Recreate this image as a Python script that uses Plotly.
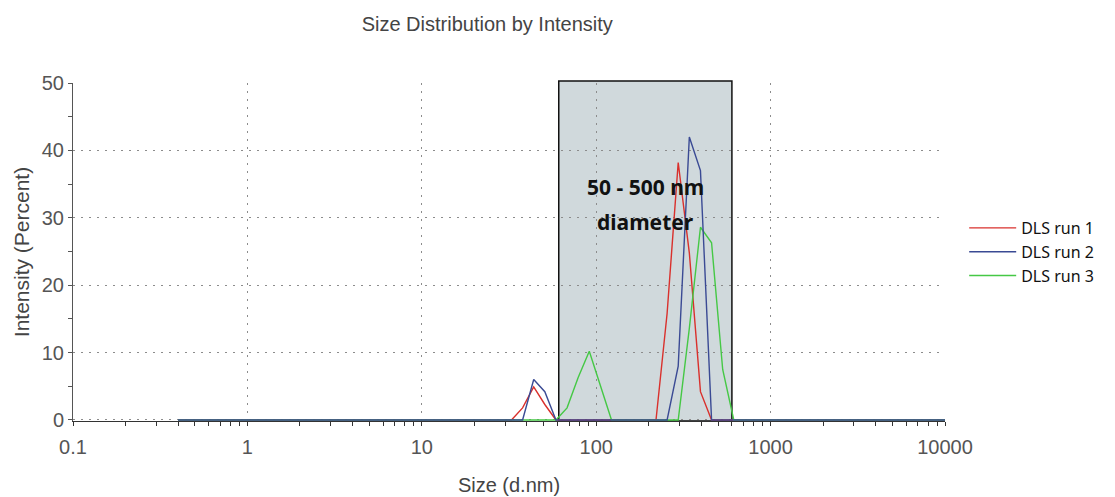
import math
import plotly.graph_objects as go

# DLS size bins (d.nm)
sizes = [0.4, 0.4632, 0.5365, 0.6213, 0.7195, 0.8332, 0.9649, 1.117, 1.294, 1.499,
         1.736, 2.01, 2.328, 2.696, 3.122, 3.615, 4.187, 4.849, 5.615, 6.503,
         7.531, 8.721, 10.1, 11.7, 13.54, 15.69, 18.17, 21.04, 24.36, 28.21,
         32.67, 37.84, 43.82, 50.75, 58.77, 68.06, 78.82, 91.28, 105.7, 122.4,
         141.8, 164.2, 190.1, 220.2, 255.0, 295.3, 342.0, 396.1, 458.7, 531.2,
         615.1, 712.4, 825.0, 955.4, 1106, 1281, 1484, 1718, 1990, 2305,
         2669, 3091, 3580, 4145, 4801, 5560, 6439, 7456, 8635, 10000]

run1 = [0, 0, 0, 0, 0, 0, 0, 0, 0, 0,
        0, 0, 0, 0, 0, 0, 0, 0, 0, 0,
        0, 0, 0, 0, 0, 0, 0, 0, 0, 0,
        0, 1.8, 4.9, 2.3, 0, 0, 0, 0, 0, 0,
        0, 0, 0, 0, 15.8, 38.2, 24.8, 4.2, 0, 0,
        0, 0, 0, 0, 0, 0, 0, 0, 0, 0,
        0, 0, 0, 0, 0, 0, 0, 0, 0, 0]

run2 = [0, 0, 0, 0, 0, 0, 0, 0, 0, 0,
        0, 0, 0, 0, 0, 0, 0, 0, 0, 0,
        0, 0, 0, 0, 0, 0, 0, 0, 0, 0,
        0, 0, 6.0, 4.2, 0, 0, 0, 0, 0, 0,
        0, 0, 0, 0, 0, 8.0, 42.0, 37.0, 0, 0,
        0, 0, 0, 0, 0, 0, 0, 0, 0, 0,
        0, 0, 0, 0, 0, 0, 0, 0, 0, 0]

run3 = [0, 0, 0, 0, 0, 0, 0, 0, 0, 0,
        0, 0, 0, 0, 0, 0, 0, 0, 0, 0,
        0, 0, 0, 0, 0, 0, 0, 0, 0, 0,
        0, 0, 0, 0, 0, 1.8, 6.3, 10.2, 5.0, 0,
        0, 0, 0, 0, 0, 0, 13.6, 28.6, 26.3, 7.5,
        0, 0, 0, 0, 0, 0, 0, 0, 0, 0,
        0, 0, 0, 0, 0, 0, 0, 0, 0, 0]

series_names = ["DLS run 1", "DLS run 2", "DLS run 3"]
series_colors = ["#d9302c", "#3a4a94", "#45c845"]

x_tickvals = [0.1, 1, 10, 100, 1000, 10000]
x_ticktext = ["0.1", "1", "10", "100", "1000", "10000"]
y_tickvals = [0, 10, 20, 30, 40, 50]

band_range = [61, 600]
band_label = ["50 - 500 nm", "diameter"]

fig = go.Figure()
# draw order: run1, run3, run2 (run2 on top); legend order by rank
for data, name, color, rank in [(run1, series_names[0], series_colors[0], 1),
                                (run3, series_names[2], series_colors[2], 3),
                                (run2, series_names[1], series_colors[1], 2)]:
    fig.add_trace(go.Scatter(x=sizes, y=data, mode="lines", name=name,
                             line=dict(color=color, width=1.4),
                             legendrank=rank, cliponaxis=False))

fig.add_shape(type="rect", xref="x", yref="paper",
              x0=band_range[0], x1=band_range[1], y0=0, y1=1.006,
              fillcolor="#d0d9dc", line=dict(color="#111111", width=1.5),
              layer="below")

ann_x = (math.log10(band_range[0]) + math.log10(band_range[1])) / 2
fig.add_annotation(x=ann_x, y=34.5, xref="x", yref="y", text=band_label[0],
                   showarrow=False,
                   font=dict(family="Noto Sans", size=21, color="#111111", weight="bold"))
fig.add_annotation(x=ann_x, y=29.4, xref="x", yref="y", text=band_label[1],
                   showarrow=False,
                   font=dict(family="Noto Sans", size=21, color="#111111", weight="bold"))

tickfont = dict(family="Liberation Sans, Arial", size=20, color="#555555")
titlefont = dict(family="Liberation Sans, Arial", size=20, color="#444444")

fig.update_layout(
    width=1115, height=497,
    margin=dict(l=73, r=170, t=83, b=76),
    paper_bgcolor="white", plot_bgcolor="white",
    title=dict(text="Size Distribution by Intensity", x=0.437, xanchor="center",
               y=0.952, yanchor="middle",
               font=dict(family="Liberation Sans, Arial", size=20, color="#444444")),
    legend=dict(x=1.022, y=0.5, xanchor="left", yanchor="middle",
                font=dict(family="Noto Sans", size=16, color="#111111"),
                bgcolor="rgba(0,0,0,0)", tracegroupgap=0, itemwidth=47),
    xaxis=dict(type="log", range=[-1, 4], tickvals=x_tickvals, ticktext=x_ticktext,
               showgrid=True, gridcolor="#8c8c8c", griddash="2px,6px", gridwidth=1,
               showline=True, linecolor="#333333", linewidth=1,
               ticks="outside", ticklen=4, tickcolor="#333333",
               minor=dict(dtick="D1", ticks="outside", ticklen=4, tickcolor="#333333", showgrid=False),
               tickfont=tickfont, zeroline=False, layer="below traces",
               ticklabelstandoff=4, automargin=False,
               title=dict(text="Size (d.nm)", standoff=20, font=titlefont)),
    yaxis=dict(range=[-0.15, 50], tickvals=y_tickvals,
               showgrid=True, gridcolor="#8c8c8c", griddash="2px,6px", gridwidth=1,
               showline=True, linecolor="#555555", linewidth=1,
               ticks="outside", ticklen=4, tickcolor="#555555",
               minor=dict(dtick=5, ticks="outside", ticklen=4, tickcolor="#555555", showgrid=False),
               tickfont=tickfont, zeroline=False, layer="below traces", automargin=False,
               title=dict(text="Intensity (Percent)", standoff=6,
                          font=dict(family="Liberation Sans, Arial", size=21, color="#444444"))),
)

fig.write_html("out.html")
